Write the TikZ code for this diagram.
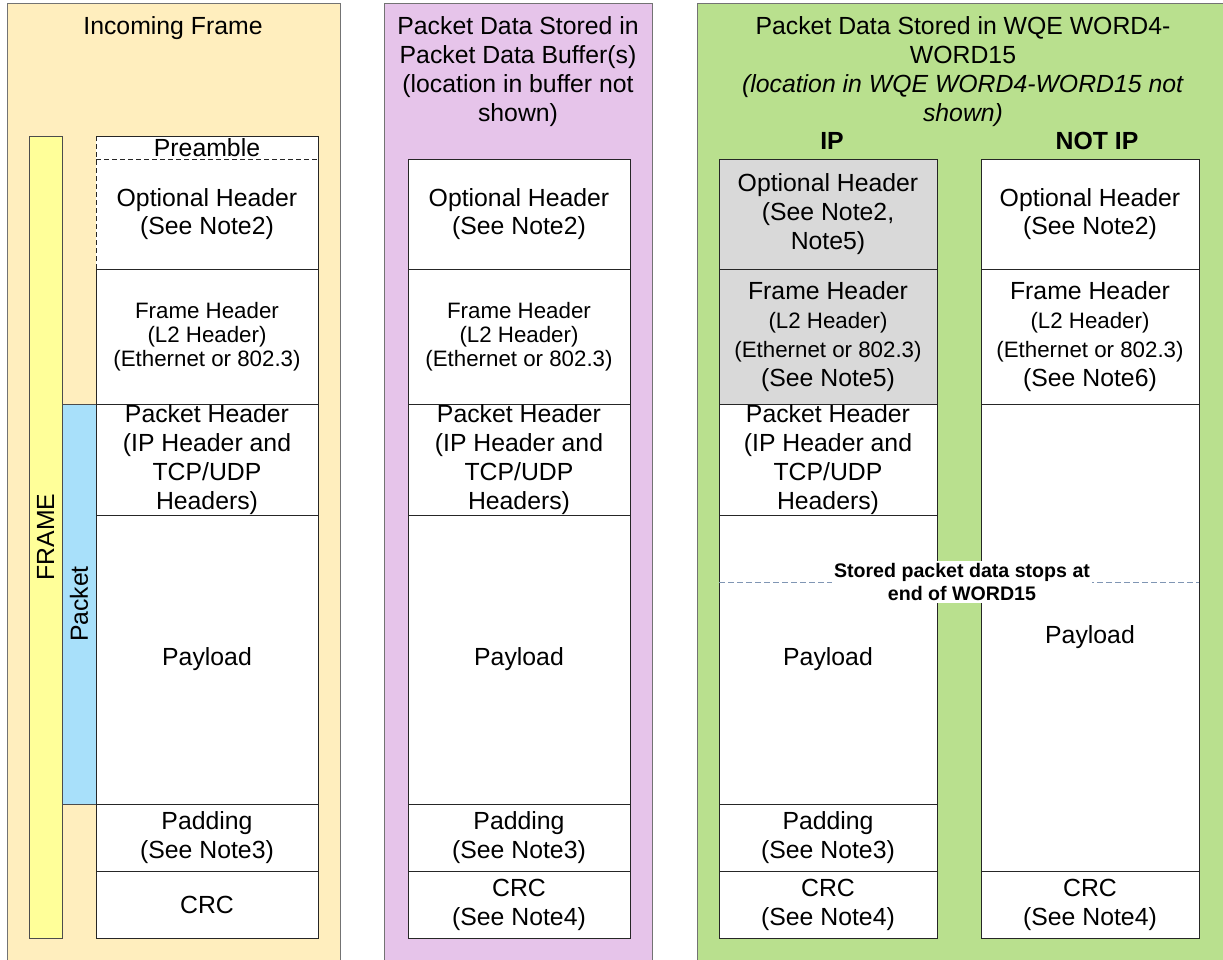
\documentclass[tikz,border=0pt]{standalone}
\usepackage{fontspec}
\setmainfont{Liberation Sans}
\usepackage{xcolor}
\usepackage{tikz}
\usetikzlibrary{positioning}

\definecolor{framebg}{RGB}{255,238,190}
\definecolor{framebar}{RGB}{255,255,153}
\definecolor{pktbar}{RGB}{168,224,250}
\definecolor{bufbg}{RGB}{230,196,234}
\definecolor{wqebg}{RGB}{185,224,142}
\definecolor{ipgray}{RGB}{217,217,217}
\definecolor{stopgray}{RGB}{128,150,180}

\newcommand{\cellfont}{\fontsize{24.8}{28.8}\selectfont}
\newcommand{\notefont}{\fontsize{22.3}{24}\selectfont}
\newcommand{\stopfont}{\fontsize{19.6}{22.5}\selectfont\bfseries}

\begin{document}
\begin{tikzpicture}[
    x=1pt, y=-1pt,
    cell/.style={rectangle, draw=black!85, line width=1pt, fill=white, inner sep=0pt, outer sep=0pt, align=center, font=\cellfont},
    wide/.style={minimum width=222pt},
    narrow/.style={minimum width=218pt},
    bar/.style={rectangle, draw=black!70, line width=1pt, rotate=90, inner sep=0pt, outer sep=0pt, font=\cellfont},
    title/.style={align=center, font=\cellfont, inner sep=0pt},
    panel/.style={draw=black!55, line width=1pt}
    ]
        \clip (0,0) rectangle (1223,959);
        %Backgrounds
        \draw[panel, fill=framebg] (7,3) rectangle (340,980);
        \draw[panel, fill=bufbg] (384,3) rectangle (652,980);
        \draw[panel, fill=wqebg] (697,3) rectangle (1240,980);

        %Titles
        \node[title] (inctitle) at (173,28) {Incoming Frame};
        \node[title] (buftitle) at (518,71.5)
            {Packet Data Stored in\\Packet Data Buffer(s)\\(location in buffer not\\shown)};
        \node[title] (wqetitle) at (963,71.5)
            {Packet Data Stored in WQE WORD4-\\WORD15\\\textit{(location in WQE WORD4-WORD15 not}\\\textit{shown)}};
        \node[title, font=\cellfont\bfseries] (iplabel) at (832,141) {IP};
        \node[title, font=\cellfont\bfseries] (niplabel) at (1097,141) {NOT IP};

        %Bars
        \node[bar, fill=framebar, minimum width=802pt, minimum height=33pt]
            (framebar) at (45.5,537) {FRAME};
        \node[bar, fill=pktbar, minimum width=400pt, minimum height=34pt]
            (pktbar) at (79,604) {Packet};

        %Incoming frame
        \node[cell, wide, draw=none, minimum height=23pt, anchor=north]
            (fpre) at (207,136) {Preamble};
        \node[cell, wide, draw=none, minimum height=110pt]
            (fopt) [below=0pt of fpre] {Optional Header\\(See Note2)};
        \node[cell, wide, minimum height=135pt, font=\notefont]
            (ffh) [below=0pt of fopt] {Frame Header\\(L2 Header)\\(Ethernet or 802.3)};
        \node[cell, wide, minimum height=111pt]
            (fph) [below=0pt of ffh] {Packet Header\\(IP Header and\\TCP/UDP\\Headers)};
        \node[cell, wide, minimum height=289pt]
            (fpay) [below=0pt of fph] {Payload};
        \node[cell, wide, minimum height=67pt]
            (fpad) [below=0pt of fpay] {Padding\\(See Note3)};
        \node[cell, wide, minimum height=67pt]
            (fcrc) [below=0pt of fpad] {CRC};
        \draw[draw=black!85, line width=1pt] (fpre.north west) -- (fpre.north east) -- (fopt.south east);
        \draw[draw=black!85, line width=1pt, dash pattern=on 5pt off 3pt] (fopt.south west) -- (fpre.north west);
        \draw[draw=black!85, line width=1pt, dash pattern=on 5pt off 3pt] (fpre.south west) -- (fpre.south east);

        %Packet data buffer
        \node[cell, wide, minimum height=110pt, anchor=north]
            (bopt) at (519,159) {Optional Header\\(See Note2)};
        \node[cell, wide, minimum height=135pt, font=\notefont]
            (bfh) [below=0pt of bopt] {Frame Header\\(L2 Header)\\(Ethernet or 802.3)};
        \node[cell, wide, minimum height=111pt]
            (bph) [below=0pt of bfh] {Packet Header\\(IP Header and\\TCP/UDP\\Headers)};
        \node[cell, wide, minimum height=289pt]
            (bpay) [below=0pt of bph] {Payload};
        \node[cell, wide, minimum height=67pt]
            (bpad) [below=0pt of bpay] {Padding\\(See Note3)};
        \node[cell, wide, minimum height=67pt]
            (bcrc) [below=0pt of bpad] {CRC\\(See Note4)};

        %WQE, IP
        \node[cell, narrow, fill=ipgray, minimum height=110pt, anchor=north]
            (iopt) at (828,159) {Optional Header\\(See Note2,\\Note5)};
        \node[cell, narrow, fill=ipgray, minimum height=135pt]
            (ifh) [below=0pt of iopt] {Frame Header\\{\notefont (L2 Header)}\\{\notefont (Ethernet or 802.3)}\\(See Note5)};
        \node[cell, narrow, minimum height=111pt]
            (iph) [below=0pt of ifh] {Packet Header\\(IP Header and\\TCP/UDP\\Headers)};
        \node[cell, narrow, minimum height=289pt]
            (ipay) [below=0pt of iph] {Payload};
        \node[cell, narrow, minimum height=67pt]
            (ipad) [below=0pt of ipay] {Padding\\(See Note3)};
        \node[cell, narrow, minimum height=67pt]
            (icrc) [below=0pt of ipad] {CRC\\(See Note4)};

        %WQE, not IP
        \node[cell, narrow, minimum height=110pt, anchor=north]
            (nopt) at (1090,159) {Optional Header\\(See Note2)};
        \node[cell, narrow, minimum height=135pt]
            (nfh) [below=0pt of nopt] {Frame Header\\{\notefont (L2 Header)}\\{\notefont (Ethernet or 802.3)}\\(See Note6)};
        \node[cell, narrow, minimum height=467pt]
            (npay) [below=0pt of nfh] {Payload};
        \node[cell, narrow, minimum height=67pt]
            (ncrc) [below=0pt of npay] {CRC\\(See Note4)};

        %Stop line
        \coordinate (cut) at (962,582);
        \draw[draw=stopgray, line width=1pt, dash pattern=on 6pt off 3pt]
            (ipay.west |- cut) -- (npay.east |- cut);
        \node[fill=white, font=\stopfont, align=center, inner sep=2.5pt]
            (stopnote) at (cut) {Stored packet data stops at\\end of WORD15};
    \end{tikzpicture}
\end{document}
